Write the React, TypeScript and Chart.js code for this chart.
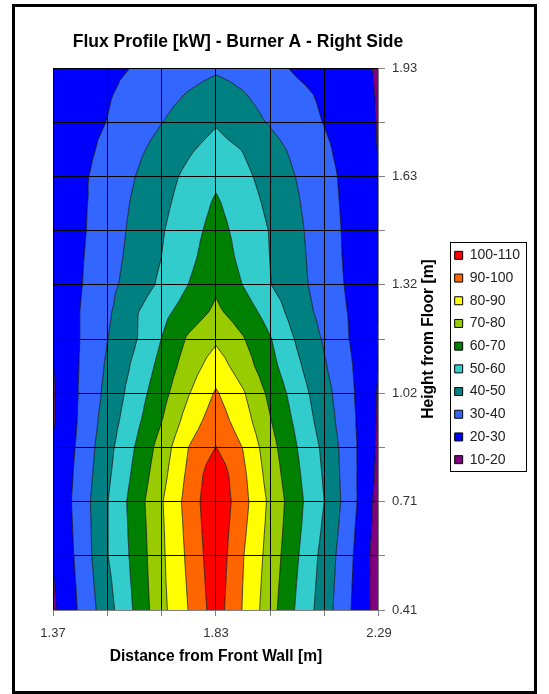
import React, { useEffect, useRef } from "react";
import { Chart, registerables } from "chart.js";

Chart.register(...registerables);

const FONT = '"Liberation Sans", Arial, sans-serif';

// Distance from front wall [m] (columns of the measurement grid)
const distances = [1.37, 1.4467, 1.5233, 1.6, 1.6767, 1.7533, 1.83, 1.9067, 1.9833, 2.06, 2.1367, 2.2133, 2.29];
// Height from floor [m] (rows of the measurement grid, top to bottom)
const heights = [1.93, 1.854, 1.778, 1.702, 1.626, 1.55, 1.474, 1.398, 1.322, 1.246, 1.17, 1.094, 1.018, 0.942, 0.866, 0.79, 0.714, 0.638, 0.562, 0.486, 0.41];

// Flux [kW], one row per height, one value per distance
const flux: number[][] = [
  [24, 26, 28, 30.4, 33.5, 36.5, 38.7, 37, 33, 28.5, 25.5, 23, 19],
  [24, 26, 29.2, 33.1, 37, 40.7, 43.9, 40.6, 36.6, 32.5, 28.3, 23.8, 19.3],
  [24.5, 27, 30.2, 35, 39.8, 44.5, 49.1, 44.1, 39.1, 34.4, 29.6, 24.5, 19.4],
  [24.5, 27.5, 31.9, 37.7, 43.3, 48.8, 53.6, 49.6, 43.5, 37.5, 31.6, 25.6, 19.6],
  [24.5, 28.3, 33.6, 39.8, 46.2, 52.3, 58, 52.3, 46, 39.5, 33.1, 26.5, 19.8],
  [24.5, 28.3, 34.6, 41.2, 47.7, 54.3, 61.3, 54.6, 47.8, 40.8, 33.8, 26.8, 19.8],
  [24.5, 28.5, 35.2, 42.2, 49.2, 56.1, 63.6, 56.3, 49.5, 41.8, 34.5, 27.1, 19.8],
  [24.5, 29, 36, 43, 50.1, 57.5, 66, 57.3, 49.8, 42.4, 34.9, 27.3, 19.8],
  [24.5, 29.4, 36.9, 44.4, 51.9, 60.2, 68.3, 59.7, 50.3, 42.9, 35.5, 27.8, 19.8],
  [24.5, 30.1, 38.3, 48.7, 57.1, 64.7, 71.9, 65, 55.8, 44.9, 36.6, 28.7, 19.8],
  [21, 30.1, 39.8, 48.9, 60.2, 71.5, 78.4, 70.7, 60.6, 48.6, 38.7, 29.1, 19.5],
  [19.7, 30.5, 41.3, 51.8, 63.2, 75.1, 85, 74.9, 63.2, 51.7, 40.9, 30.4, 19.7],
  [19.2, 30.9, 42.6, 54.4, 66.3, 79.5, 91.1, 81, 67.5, 54.9, 43.4, 31.2, 19],
  [19.2, 31.3, 44.5, 56.8, 69.7, 84.4, 95.5, 84.5, 70.5, 57.4, 45.1, 32, 18.5],
  [20.5, 32.2, 46.6, 60, 74.2, 90.2, 100.3, 89.6, 73.6, 59.9, 47.6, 32.8, 18],
  [21, 33.2, 48, 62, 76.6, 92.3, 107, 92, 75.6, 61.5, 48.7, 33, 17.5],
  [21, 34.2, 49.6, 64.2, 79.2, 94, 108.5, 93.3, 77.8, 62.9, 49.8, 33.3, 16],
  [21, 33.5, 49.6, 63.4, 78.6, 93.1, 107.5, 91.9, 76.9, 62, 48.2, 32, 15.5],
  [20.5, 32.9, 49.6, 62.7, 78.2, 92.2, 106.7, 90.4, 76, 60.7, 46.4, 30.9, 14.5],
  [19.4, 32.1, 47.6, 61.9, 77.8, 91.3, 105.8, 89.8, 75, 59.5, 45.5, 30.2, 14.8],
  [18.4, 31.4, 46, 61, 77.2, 90.4, 104.9, 89.3, 74, 58.3, 44.6, 29.6, 15.1],
];

const bandLabels = ["100-110", "90-100", "80-90", "70-80", "60-70", "50-60", "40-50", "30-40", "20-30", "10-20"];
const bandLows = [100, 90, 80, 70, 60, 50, 40, 30, 20, 10];
const bandHighs = [110, 100, 90, 80, 70, 60, 50, 40, 30, 20];
const bandColors = ["#FF0000", "#FF6600", "#FFFF00", "#99CC00", "#008000", "#33CCCC", "#008080", "#3366FF", "#0000FF", "#800080"];
const contourLevels = [20, 30, 40, 50, 60, 70, 80, 90, 100];

const xTicks = [1.37, 1.5233, 1.6767, 1.83, 1.9833, 2.1367, 2.29];
const xTickLabels = ["1.37", "", "", "1.83", "", "", "2.29"];
const yTicks = [0.41, 0.562, 0.714, 0.866, 1.018, 1.17, 1.322, 1.474, 1.626, 1.778, 1.93];
const yTickLabels = ["0.41", "", "0.71", "", "1.02", "", "1.32", "", "1.63", "", "1.93"];

const chartTitle = "Flux Profile [kW] - Burner A - Right Side";
const xTitle = "Distance from Front Wall [m]";
const yTitle = "Height from Floor [m]";

type P = [number, number, number];

function clip(poly: P[], level: number, keepAbove: boolean): P[] {
  const out: P[] = [];
  const n = poly.length;
  for (let i = 0; i < n; i++) {
    const a = poly[i];
    const b = poly[(i + 1) % n];
    const ain = keepAbove ? a[2] >= level : a[2] <= level;
    const bin = keepAbove ? b[2] >= level : b[2] <= level;
    if (ain) out.push(a);
    if (ain !== bin) {
      const t = (level - a[2]) / (b[2] - a[2]);
      out.push([a[0] + t * (b[0] - a[0]), a[1] + t * (b[1] - a[1]), level]);
    }
  }
  return out;
}

const contourPlugin = {
  id: "contourBands",
  beforeDatasetsDraw(chart: any) {
    const { ctx, chartArea, scales } = chart;
    const xs = distances.map((d) => scales.x.getPixelForValue(d));
    const ys = heights.map((h) => scales.y.getPixelForValue(h));
    const tris: P[][] = [];
    for (let r = 0; r < heights.length - 1; r++) {
      for (let c = 0; c < distances.length - 1; c++) {
        const a: P = [xs[c], ys[r], flux[r][c]];
        const b: P = [xs[c + 1], ys[r], flux[r][c + 1]];
        const d: P = [xs[c + 1], ys[r + 1], flux[r + 1][c + 1]];
        const e: P = [xs[c], ys[r + 1], flux[r + 1][c]];
        const m: P = [
          (a[0] + b[0] + d[0] + e[0]) / 4,
          (a[1] + b[1] + d[1] + e[1]) / 4,
          (a[2] + b[2] + d[2] + e[2]) / 4,
        ];
        tris.push([a, b, m], [b, d, m], [d, e, m], [e, a, m]);
      }
    }
    ctx.save();
    ctx.beginPath();
    ctx.rect(chartArea.left, chartArea.top, chartArea.right - chartArea.left, chartArea.bottom - chartArea.top);
    ctx.clip();
    bandLows.forEach((lo, i) => {
      ctx.beginPath();
      for (const t of tris) {
        const poly = clip(clip(t, lo, true), bandHighs[i], false);
        if (poly.length < 3) continue;
        ctx.moveTo(poly[0][0], poly[0][1]);
        for (let k = 1; k < poly.length; k++) ctx.lineTo(poly[k][0], poly[k][1]);
        ctx.closePath();
      }
      ctx.fillStyle = bandColors[i];
      ctx.fill();
    });
    ctx.beginPath();
    for (const L of contourLevels) {
      for (const t of tris) {
        const pts: number[][] = [];
        for (let k = 0; k < 3; k++) {
          const a = t[k];
          const b = t[(k + 1) % 3];
          if ((a[2] >= L) !== (b[2] >= L)) {
            const s = (L - a[2]) / (b[2] - a[2]);
            pts.push([a[0] + s * (b[0] - a[0]), a[1] + s * (b[1] - a[1])]);
          }
        }
        if (pts.length === 2) {
          ctx.moveTo(pts[0][0], pts[0][1]);
          ctx.lineTo(pts[1][0], pts[1][1]);
        }
      }
    }
    ctx.strokeStyle = "rgba(0,0,0,0.75)";
    ctx.lineWidth = 0.9;
    ctx.stroke();
    ctx.restore();
  },
};

const decorPlugin = {
  id: "decor",
  afterDraw(chart: any) {
    const { ctx, chartArea, scales, legend } = chart;
    ctx.save();
    ctx.fillStyle = "#000";
    ctx.textAlign = "center";
    ctx.textBaseline = "middle";
    // chart title
    ctx.font = `bold 17.5px ${FONT}`;
    ctx.fillText(chartTitle, chartArea.left + 185, chartArea.top - 26);
    // x axis title
    ctx.font = `bold 15.6px ${FONT}`;
    ctx.fillText(xTitle, (chartArea.left + chartArea.right) / 2, chartArea.bottom + 47);
    // y axis title, reading bottom to top
    ctx.save();
    ctx.translate(scales.y.left + 50, (chartArea.top + chartArea.bottom) / 2);
    ctx.rotate(-Math.PI / 2);
    ctx.fillText(yTitle, 0, 0);
    ctx.restore();
    // legend frame
    if (legend && legend.legendHitBoxes && legend.legendHitBoxes.length) {
      const hb = legend.legendHitBoxes;
      let l = Infinity, t = Infinity, r = -Infinity, b = -Infinity;
      for (const h of hb) {
        l = Math.min(l, h.left);
        t = Math.min(t, h.top);
        r = Math.max(r, h.left + h.width);
        b = Math.max(b, h.top + h.height);
      }
      ctx.strokeStyle = "#000";
      ctx.lineWidth = 1;
      ctx.strokeRect(Math.round(l - 5) + 0.5, Math.round(t - 6) + 0.5, Math.round(r - l + 11), Math.round(b - t + 11));
    }
    ctx.restore();
  },
};

export default function App() {
  const ref = useRef<HTMLCanvasElement>(null);
  useEffect(() => {
    const canvas = ref.current;
    if (!canvas) return;
    const chart = new Chart(canvas, {
      type: "scatter",
      data: {
        datasets: bandLabels.map((label, i) => ({
          label,
          data: [],
          backgroundColor: bandColors[i],
          borderColor: "#000",
          borderWidth: 1,
        })),
      },
      options: {
        responsive: false,
        animation: false,
        devicePixelRatio: 1,
        layout: { padding: { top: 61, left: 38, right: 4, bottom: 44 } },
        plugins: {
          title: { display: false },
          tooltip: { enabled: false },
          legend: {
            position: "right",
            align: "center",
            labels: {
              boxWidth: 8,
              boxHeight: 8,
              padding: 8.7,
              color: "#222",
              font: { family: FONT, size: 14 },
            },
          },
        },
        scales: {
          x: {
            type: "linear",
            min: 1.37,
            max: 2.29,
            afterBuildTicks: (s: any) => {
              s.ticks = xTicks.map((v) => ({ value: v }));
            },
            afterFit: (s: any) => {
              s.height = 37;
            },
            ticks: {
              autoSkip: false,
              maxRotation: 0,
              padding: 10,
              color: "#333",
              font: { family: FONT, size: 13 },
              callback: (_v: any, i: number) => xTickLabels[i],
            },
            grid: { color: "#000", lineWidth: 1, tickColor: "#808080", tickLength: 6, z: 1 },
            border: { color: "#808080", z: 2 },
          },
          y: {
            type: "linear",
            position: "right",
            min: 0.41,
            max: 1.93,
            afterBuildTicks: (s: any) => {
              s.ticks = yTicks.map((v) => ({ value: v }));
            },
            afterFit: (s: any) => {
              s.width = 67;
            },
            ticks: {
              autoSkip: false,
              padding: 7,
              color: "#333",
              font: { family: FONT, size: 13 },
              callback: (_v: any, i: number) => yTickLabels[i],
            },
            grid: { color: "#000", lineWidth: 1, tickColor: "#808080", tickLength: 6, z: 1 },
            border: { color: "#808080", z: 2 },
          },
        },
      } as any,
      plugins: [contourPlugin, decorPlugin],
    });
    return () => chart.destroy();
  }, []);
  return (
    <div
      style={{
        position: "absolute",
        left: 12,
        top: 4,
        width: 525,
        height: 690,
        border: "3px solid #000",
        boxSizing: "border-box",
        background: "#fff",
      }}
    >
      <canvas ref={ref} width={519} height={684} style={{ display: "block" }} />
    </div>
  );
}
